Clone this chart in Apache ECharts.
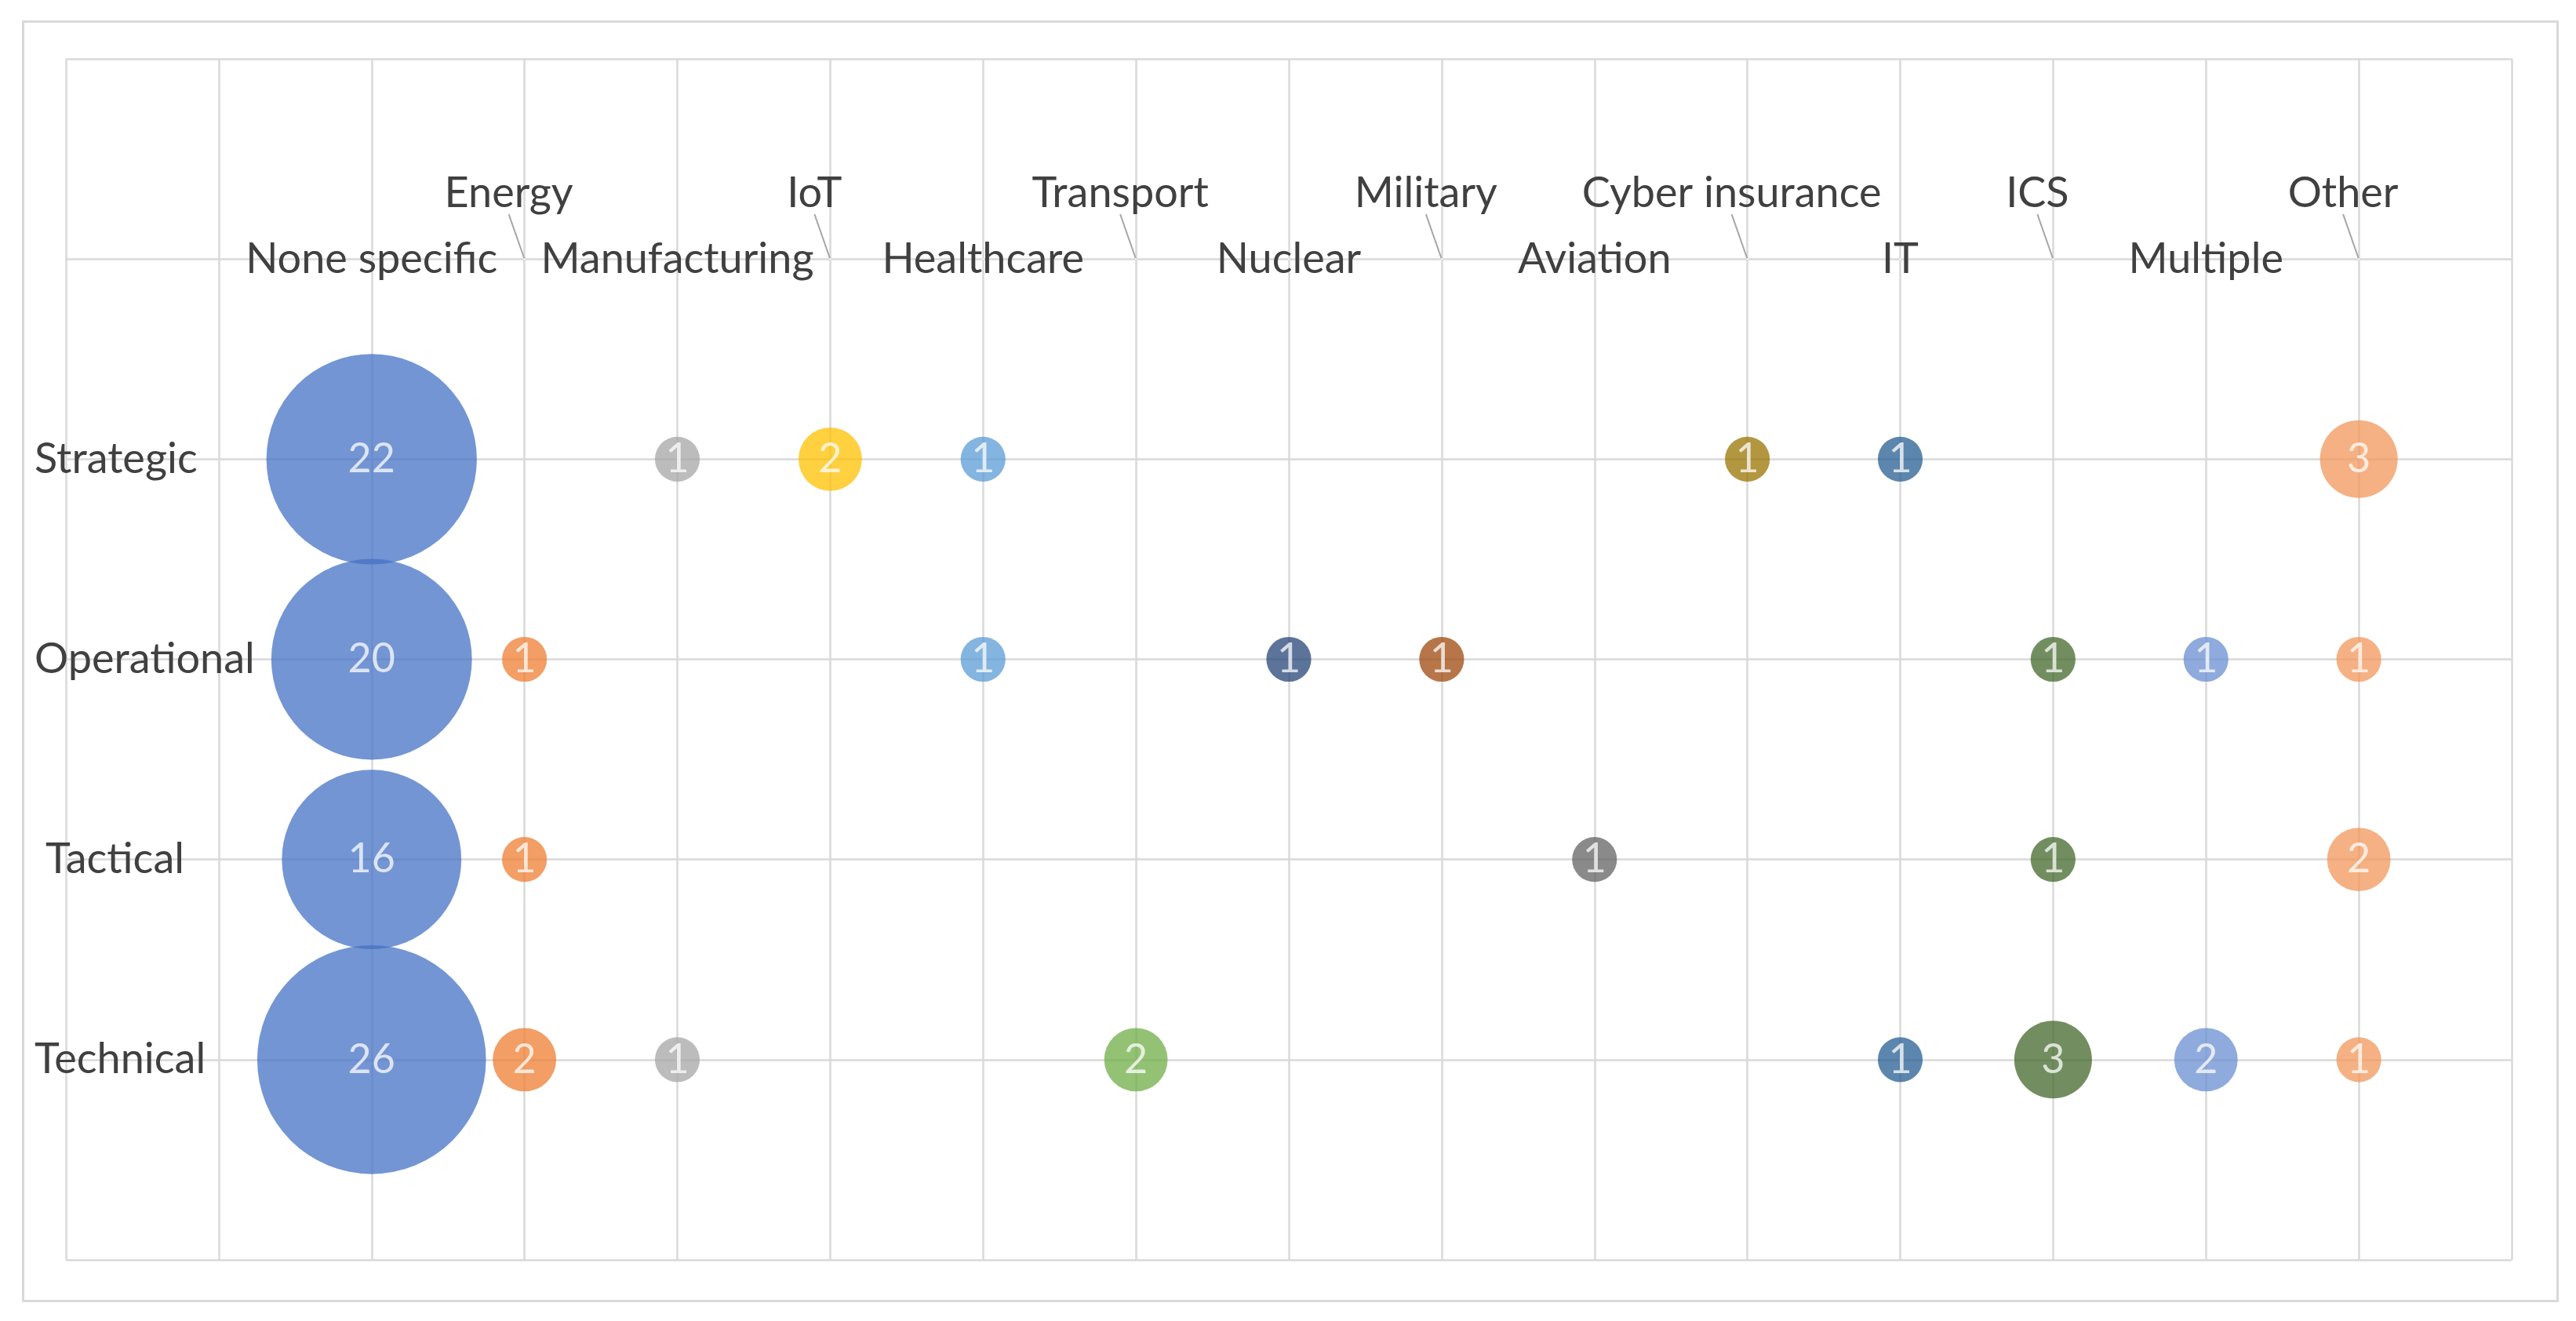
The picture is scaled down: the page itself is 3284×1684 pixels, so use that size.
<!DOCTYPE html>
<html>
<head>
<meta charset="utf-8">
<script src="https://cdn.jsdelivr.net/npm/echarts@6/dist/echarts.min.js"></script>
<style>
html,body{margin:0;padding:0;background:#fff;}
#chart{width:3284px;height:1684px;}
</style>
</head>
<body>
<div id="chart"></div>
<script>
// ---- data ----
const sectors = ['None specific','Energy','Manufacturing','IoT','Healthcare','Transport','Nuclear','Military','Aviation','Cyber insurance','IT','ICS','Multiple','Other'];
const levels = ['Strategic','Operational','Tactical','Technical'];
const strategic   = [22, null, 1, 2, 1, null, null, null, null, 1, 1, null, null, 3];
const operational = [20, 1, null, null, 1, null, 1, 1, null, null, null, 1, 1, 1];
const tactical    = [16, 1, null, null, null, null, null, null, 1, null, null, 1, null, 2];
const technical   = [26, 2, 1, null, null, 2, null, null, null, null, 1, 3, 2, 1];
const rows = [strategic, operational, tactical, technical];

// ---- style ----
const colors = ['#4472C4','#ED7D31','#A5A5A5','#FFC000','#5B9BD5','#70AD47','#264478','#9E480E','#636363','#997300','#255E91','#43682B','#698ED0','#F1975A'];
const FONT = 'Lato, "Open Sans", sans-serif';
const TEXT = '#404040';
const GRIDC = '#D9D9D9';

const xOf = i => i + 2;             // sector position on x
const yOf = r => levels.length - r; // level position on y

const series = sectors.map((name, i) => ({
  name: name,
  type: 'scatter',
  data: rows.map((row, r) => row[i] == null ? null : [xOf(i), yOf(r), row[i]]).filter(d => d),
  symbolSize: d => 57.2 * Math.sqrt(d[2]),
  itemStyle: { color: colors[i], opacity: 0.75 },
  label: {
    show: true, position: 'inside', formatter: p => p.value[2],
    color: '#fff', fontFamily: FONT, fontSize: 52
  },
  emphasis: { disabled: true },
  z: 3
}));

// category labels along the top row
series.push({
  type: 'scatter',
  data: sectors.map((s, i) => ({
    value: [xOf(i), levels.length + 1], name: s,
    labelLine: { show: i % 2 === 1 }
  })),
  symbolSize: 2,
  itemStyle: { color: '#ffffff', opacity: 1 },
  silent: true,
  emphasis: { disabled: true },
  label: {
    show: true, position: 'inside', formatter: p => p.name,
    color: TEXT, opacity: 1, textBorderWidth: 0, fontFamily: FONT, fontSize: 54
  },
  labelLayout: p => (p.dataIndex % 2 === 1 ? { dx: -20, dy: -84 } : {}),
  labelLine: { lineStyle: { color: '#A6A6A6', width: 2 } },
  z: 4
});

const chart = echarts.init(document.getElementById('chart'));
chart.setOption({
  animation: false,
  backgroundColor: '#fff',
  graphic: [{
    type: 'rect', left: 27, top: 25,
    shape: { width: 3231, height: 1631 },
    style: { fill: 'none', stroke: GRIDC, lineWidth: 3 },
    silent: true
  }],
  grid: { left: 84, top: 75, width: 3118, height: 1531, containLabel: false },
  xAxis: {
    type: 'value', min: 0, max: 16, interval: 1,
    axisLine: { show: false }, axisTick: { show: false }, axisLabel: { show: false },
    splitLine: { show: true, lineStyle: { color: GRIDC, width: 2.5 } }
  },
  yAxis: {
    type: 'value', min: 0, max: 6, interval: 1,
    axisLine: { show: false }, axisTick: { show: false },
    axisLabel: {
      show: true, align: 'left', margin: 40,
      color: TEXT, fontFamily: FONT, fontSize: 54,
      formatter: v => {
        const r = levels.length - v;
        if (!(r >= 0 && r < levels.length && v > 0)) return '';
        return levels[r] === 'Tactical' ? '{ind|' + levels[r] + '}' : levels[r];
      },
      rich: { ind: { color: TEXT, fontFamily: FONT, fontSize: 54, padding: [0, 0, 0, 14] } }
    },
    splitLine: { show: true, lineStyle: { color: GRIDC, width: 2.5 } }
  },
  series: series
});
</script>
</body>
</html>
